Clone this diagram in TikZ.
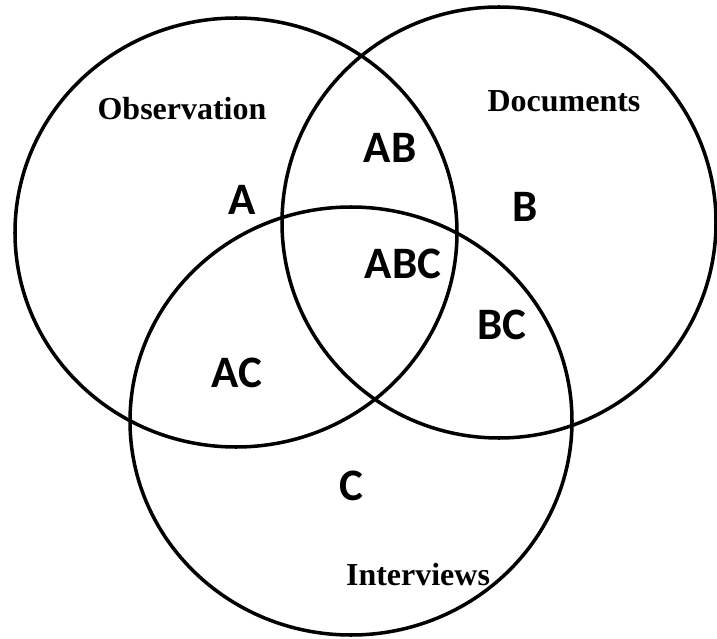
\documentclass[tikz,border=0pt]{standalone}
\usepackage{fontspec}
\setmainfont{Liberation Serif}
\newfontfamily\carlito{Carlito}

\begin{document}
\begin{tikzpicture}[scale=0.2]
		\tikzstyle{every node}+=[inner sep=0pt]
		\tikzstyle{setname}=[font=\bfseries\fontsize{18.2}{22}\selectfont]
		\tikzstyle{region}=[font=\carlito\bfseries\fontsize{25.6}{30}\selectfont]
		\useasboundingbox (0,0) rectangle (71.7,-63.9);
		\draw [black, line width=2pt] (23.6,-23.25) ellipse (22.1 and 21.45);
		\draw [black, line width=2pt] (49.9,-22.25) ellipse (21.7 and 21.55);
		\draw [black, line width=2pt] (35.1,-42.1) ellipse (22.1 and 21.4);
		\node [setname] (obs) at (18.2,-10.9) {Observation};
		\node [setname] (docs) at (56.4,-10.1) {Documents};
		\node [setname] (intv) at (41.8,-57.5) {Interviews};
		\node [region] (a) at (24.2,-20.0) {A};
		\node [region] (ab) at (39.0,-14.8) {AB};
		\node [region] (b) at (52.5,-20.7) {B};
		\node [region] (abc) at (40.3,-26.4) {ABC};
		\node [region] (bc) at (50.2,-32.5) {BC};
		\node [region] (ac) at (23.7,-37.3) {AC};
		\node [region] (c) at (35.1,-48.6) {C};
\end{tikzpicture}
\end{document}
